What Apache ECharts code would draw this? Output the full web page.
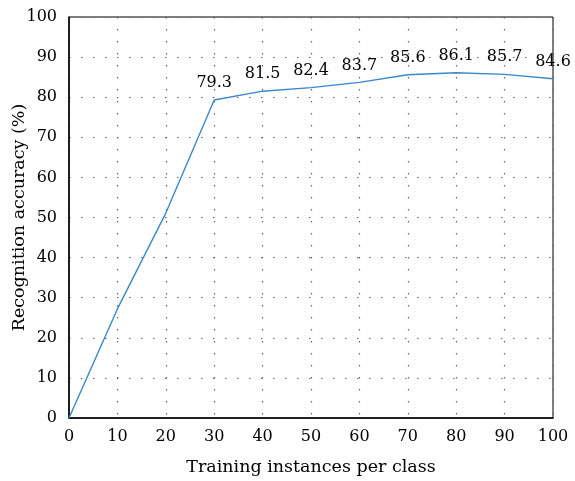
<!DOCTYPE html>
<html lang="en">
<head>
    <meta charset="UTF-8">
    <title>Recognition accuracy</title>
    <script src="https://cdn.jsdelivr.net/npm/echarts@6/dist/echarts.min.js"></script>
</head>
<body style="margin:0">
    <div id="main" style="width: 575px; height: 481px;"></div>
    <script>
        // training instances per class vs accuracy
        var instances = [0, 10, 20, 30, 40, 50, 60, 70, 80, 90, 100];
        var accuracy = [0, 27.2, 51.1, 79.3, 81.5, 82.4, 83.7, 85.6, 86.1, 85.7, 84.6];
        var labelled = [false, false, false, true, true, true, true, true, true, true, true];

        var chartDom = document.getElementById('main');
        var myChart = echarts.init(chartDom);
        var font = 'DejaVu Serif';

        var points = instances.map(function (x, i) {
            return {
                value: [x, accuracy[i]],
                label: { show: labelled[i] }
            };
        });

        var option = {
            textStyle: { fontFamily: font },
            grid: {
                left: 69,
                right: 22,
                top: 17,
                bottom: 63,
                outerBoundsMode: 'none',
                show: true,
                borderColor: '#000',
                borderWidth: 1
            },
            xAxis: {
                type: 'value',
                min: 0,
                max: 100,
                interval: 10,
                name: 'Training instances per class',
                nameLocation: 'middle',
                nameGap: 40,
                nameMoveOverlap: false,
                nameTextStyle: { fontFamily: font, fontSize: 17.5, color: '#000' },
                axisLine: { lineStyle: { color: '#000', width: 1.5 } },
                axisTick: { show: false },
                axisLabel: { fontFamily: font, fontSize: 16, color: '#000', margin: 11 },
                splitLine: {
                    show: true,
                    lineStyle: { color: '#666', type: [1.5, 10.5], width: 1.2 }
                }
            },
            yAxis: {
                type: 'value',
                min: 0,
                max: 100,
                interval: 10,
                name: 'Recognition accuracy (%)',
                nameLocation: 'middle',
                nameGap: 41,
                nameMoveOverlap: false,
                nameTextStyle: { fontFamily: font, fontSize: 17.5, color: '#000' },
                axisLine: { show: true, lineStyle: { color: '#000', width: 1.5 } },
                axisTick: { show: false },
                axisLabel: { fontFamily: font, fontSize: 16, color: '#000', margin: 12 },
                splitLine: {
                    show: true,
                    lineStyle: { color: '#666', type: [1.5, 10.5], width: 1.2 }
                }
            },
            series: [
                {
                    type: 'line',
                    data: points,
                    symbol: 'circle',
                    symbolSize: 0,
                    showSymbol: true,
                    lineStyle: { color: '#3a88cc', width: 1.4 },
                    itemStyle: { color: '#3a88cc' },
                    label: {
                        show: true,
                        position: 'top',
                        distance: 9,
                        fontFamily: font,
                        fontSize: 16,
                        color: '#000'
                    }
                }
            ]
        };

        myChart.setOption(option);
    </script>
</body>
</html>
